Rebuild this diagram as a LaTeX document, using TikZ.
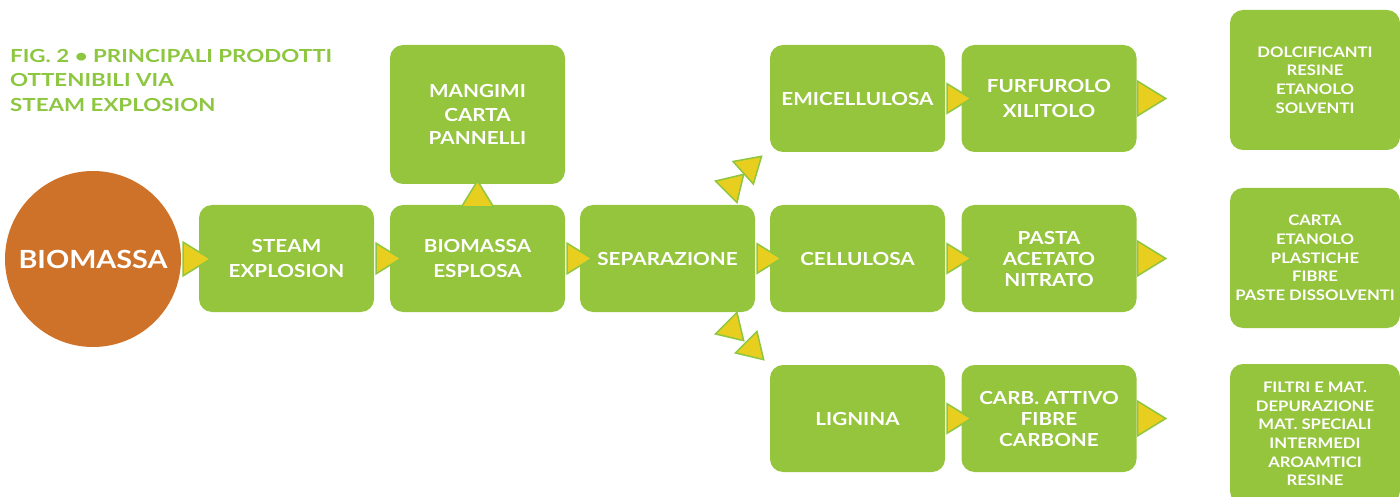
\documentclass[tikz,border=0pt]{standalone}
\usepackage{fontspec}
\setmainfont{Lato}[BoldFont={Lato Bold}, FakeStretch=1.15]
\newfontfamily\titlefont{Lato}[BoldFont={Lato Bold}, FakeStretch=1.24]
\definecolor{leaf}{HTML}{95C43D}
\definecolor{lime}{HTML}{8DC63F}
\definecolor{sun}{HTML}{E8CE1E}
\definecolor{rust}{HTML}{CF7229}
\tikzset{tip/.pic={\draw[tipline] (0,-16) -- (26,0) -- (0,16) -- cycle;}}

\begin{document}
\begin{tikzpicture}[x=1pt,y=-1pt]
    \tikzstyle{every node}+=[inner sep=0pt]
    \tikzstyle{stage}=[fill=leaf, rounded corners=13pt, minimum width=175pt, minimum height=107pt, text=white, align=center, font=\bfseries\fontsize{18}{25}\selectfont]
    \tikzstyle{stage3}=[stage, font=\bfseries\fontsize{18}{21}\selectfont]
    \tikzstyle{yield}=[fill=leaf, rounded corners=13pt, minimum width=170pt, minimum height=140pt, text=white, align=center, font=\bfseries\fontsize{14.5}{18.7}\selectfont]
    \tikzstyle{tipline}=[fill=sun, draw=lime, line width=1.5pt, line join=miter]
    \useasboundingbox (0,0) rectangle (1400,497);
    \clip (0,0) rectangle (1400,497);
    \node [anchor=north west, align=left, text=lime, font=\titlefont\bfseries\fontsize{18}{24.5}\selectfont] (title) at (10,49) {FIG. 2 \textbullet{} PRINCIPALI PRODOTTI\\OTTENIBILI VIA\\STEAM EXPLOSION};
    \node [circle, fill=rust, minimum size=176pt, text=white, font=\bfseries\fontsize{25}{30}\selectfont] (bio) at (93,259) {BIOMASSA};
    \node [stage] (steam) at (286.5,258.5) {STEAM\\EXPLOSION};
    \node [stage] (esp) at (477.5,258.5) {BIOMASSA\\ESPLOSA};
    \node [stage, minimum height=139pt, font=\bfseries\fontsize{18}{23.5}\selectfont] (mang) at (477.5,114.5) {MANGIMI\\CARTA\\PANNELLI};
    \node [stage] (sep) at (667.5,258.5) {SEPARAZIONE};
    \node [stage] (emi) at (857.5,98.5) {EMICELLULOSA};
    \node [stage] (cell) at (857.5,258.5) {CELLULOSA};
    \node [stage] (lign) at (857.5,418.5) {LIGNINA};
    \node [stage] (furf) at (1049,98.5) {FURFUROLO\\XILITOLO};
    \node [stage3] (pasta) at (1049,258.5) {PASTA\\ACETATO\\NITRATO};
    \node [stage3] (carb) at (1049,418.5) {CARB. ATTIVO\\FIBRE\\CARBONE};
    \node [yield] (dolc) at (1315,80) {DOLCIFICANTI\\RESINE\\ETANOLO\\SOLVENTI};
    \node [yield] (carta) at (1315,258) {CARTA\\ETANOLO\\PLASTICHE\\FIBRE\\PASTE DISSOLVENTI};
    \node [yield] (filtri) at (1315,434) {FILTRI E MAT.\\DEPURAZIONE\\MAT. SPECIALI\\INTERMEDI\\AROAMTICI\\RESINE};
    % frecce gialle
    \path (bio.east) ++(2,0) pic[scale=1.05] {tip};
    \path (steam.east) ++(2,0) pic[scale=0.95] {tip};
    \path (esp.east) ++(2,0) pic[scale=0.95] {tip};
    \path (esp.north) ++(0,2) pic[rotate=90] {tip};
    \path (sep.east) ++(2,0) pic[scale=0.92] {tip};
    \path (sep.north east) ++(-29,-13) pic[rotate=45, scale=0.95] {tip};
    \path (sep.north east) ++(-12,-32) pic[rotate=42, scale=0.95] {tip};
    \path (sep.south east) ++(-29,11) pic[rotate=-45, scale=0.95] {tip};
    \path (sep.south east) ++(-9,30) pic[rotate=-45, scale=0.95] {tip};
    \path (emi.east) ++(2,0) pic[scale=0.92] {tip};
    \path (cell.east) ++(2,0) pic[scale=0.92] {tip};
    \path (lign.east) ++(2,0) pic[scale=0.92] {tip};
    \path (furf.east) ++(1,0) pic[scale=1.08] {tip};
    \path (pasta.east) ++(1,0) pic[scale=1.08] {tip};
    \path (carb.east) ++(1,0) pic[scale=1.08] {tip};
\end{tikzpicture}
\end{document}
